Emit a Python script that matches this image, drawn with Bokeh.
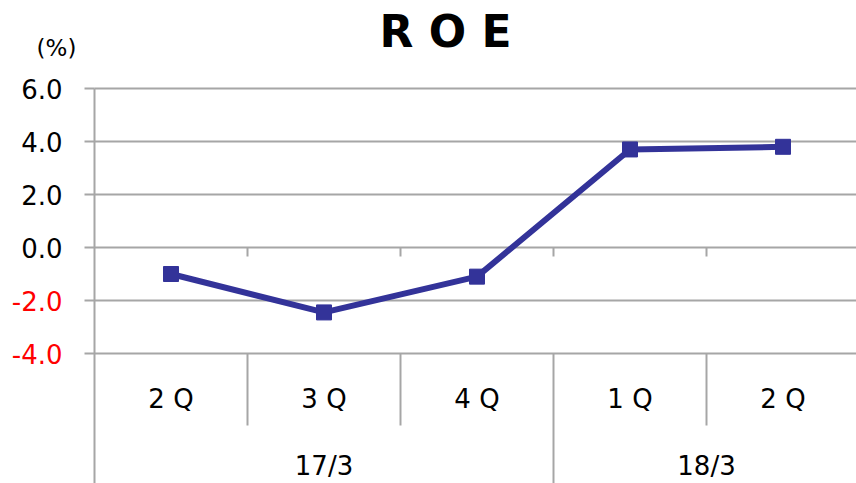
import numpy as np
from bokeh.plotting import figure
from bokeh.models import Range1d, FixedTicker, LinearAxis, CustomJSTickFormatter
from bokeh.embed import file_html
from bokeh.resources import INLINE
from bokeh.core.properties import value

# ---- data ----
quarters = ["2 Q", "3 Q", "4 Q", "1 Q", "2 Q"]
groups = ["17/3", "18/3"]
group_sizes = [3, 2]
roe = [-1.0, -2.45, -1.1, 3.7, 3.8]
y_ticks = [-4.0, -2.0, 0.0, 2.0, 4.0, 6.0]
title_text = "R O E"
unit_text = "(%)"

# ---- style / layout ----
FONT = "DejaVu Sans"
FS = "26px"
GRID = "#A6A6A6"
LINE = "#333399"

W, H = 856, 483
X0, Y0 = 94.0, 247.0   # screen position of x=0 / y=0
PX_X = 153.0           # pixels per category
PX_Y = 26.5            # pixels per 1.0 on y


def dx(sx):
    return (sx - X0) / PX_X


def dy(sy):
    return (Y0 - sy) / PX_Y


p = figure(width=W, height=H,
           x_range=Range1d(dx(0), dx(W)), y_range=Range1d(dy(H), dy(0)),
           output_backend="svg", toolbar_location=None,
           x_axis_location=None, y_axis_location=None,
           min_border=0, min_border_left=0, min_border_right=0,
           min_border_top=0, min_border_bottom=0)
p.outline_line_color = None
p.background_fill_color = "white"
p.border_fill_color = "white"
p.xgrid.visible = False
p.ygrid.visible = False

y_start = dy(H)
y_top = max(y_ticks)
y_min_tick = min(y_ticks)
x_end = dx(W)

# horizontal grid lines
p.segment(x0=[0.0] * len(y_ticks), y0=y_ticks, x1=[x_end] * len(y_ticks), y1=y_ticks,
          line_color=GRID, line_width=2)

# y axes fixed at x=0: black labels for >=0, red labels for <0
pos = [t for t in y_ticks if t >= 0]
neg = [t for t in y_ticks if t < 0]
fmt = CustomJSTickFormatter(code="return tick.toFixed(1);")


def make_axis(ticks, color, line):
    ax = LinearAxis(fixed_location=0.0, ticker=FixedTicker(ticks=ticks), formatter=fmt)
    ax.axis_line_color = GRID if line else None
    ax.axis_line_width = 2
    ax.bounds = (y_start, y_top)
    ax.major_tick_line_color = GRID
    ax.major_tick_line_width = 2
    ax.major_tick_out = 10
    ax.major_tick_in = 0
    ax.minor_tick_line_color = None
    ax.major_label_standoff = 22
    ax.major_label_text_font = FONT
    ax.major_label_text_font_size = FS
    ax.major_label_text_color = color
    return ax


p.add_layout(make_axis(pos, "black", True), "left")
p.add_layout(make_axis(neg, "red", False), "left")

# category geometry
n = len(quarters)
xs = [i + 0.5 for i in range(n)]
group_edges = [int(v) for v in np.cumsum(group_sizes)[:-1]]
bounds = list(range(1, n))
inner = [b for b in bounds if b not in group_edges]

tick_len = 9 / PX_Y
p.segment(x0=bounds, y0=[0.0] * len(bounds), x1=bounds, y1=[-tick_len] * len(bounds),
          line_color=GRID, line_width=2)
inner_bottom = dy(425)
p.segment(x0=inner, y0=[y_min_tick] * len(inner), x1=inner, y1=[inner_bottom] * len(inner),
          line_color=GRID, line_width=2)
p.segment(x0=group_edges, y0=[y_min_tick] * len(group_edges), x1=group_edges,
          y1=[y_start] * len(group_edges), line_color=GRID, line_width=2)

# category labels
p.text(x=xs, y=[dy(398)] * n, text=quarters, text_align="center", text_baseline="middle",
       text_font=value(FONT), text_font_size=FS, text_color="black")
starts = [0] + [int(v) for v in np.cumsum(group_sizes)[:-1]]
g_x = [s + g / 2 for s, g in zip(starts, group_sizes)]
p.text(x=g_x, y=[dy(465)] * len(groups), text=groups, text_align="center", text_baseline="middle",
       text_font=value(FONT), text_font_size=FS, text_color="black")

# series
p.line(x=xs, y=roe, line_color=LINE, line_width=6)
p.scatter(x=xs, y=roe, marker="square", size=15, fill_color=LINE, line_color=LINE)

# title and unit
p.text(x=[dx(445)], y=[dy(31)], text=[title_text], text_align="center", text_baseline="middle",
       text_font=value(FONT), text_font_size="44px", text_font_style="bold", text_color="black")
p.text(x=[dx(56)], y=[dy(47)], text=[unit_text], text_align="center", text_baseline="middle",
       text_font=value(FONT), text_font_size="23px", text_color="black")

open("out.html", "w").write(file_html(p, INLINE))
